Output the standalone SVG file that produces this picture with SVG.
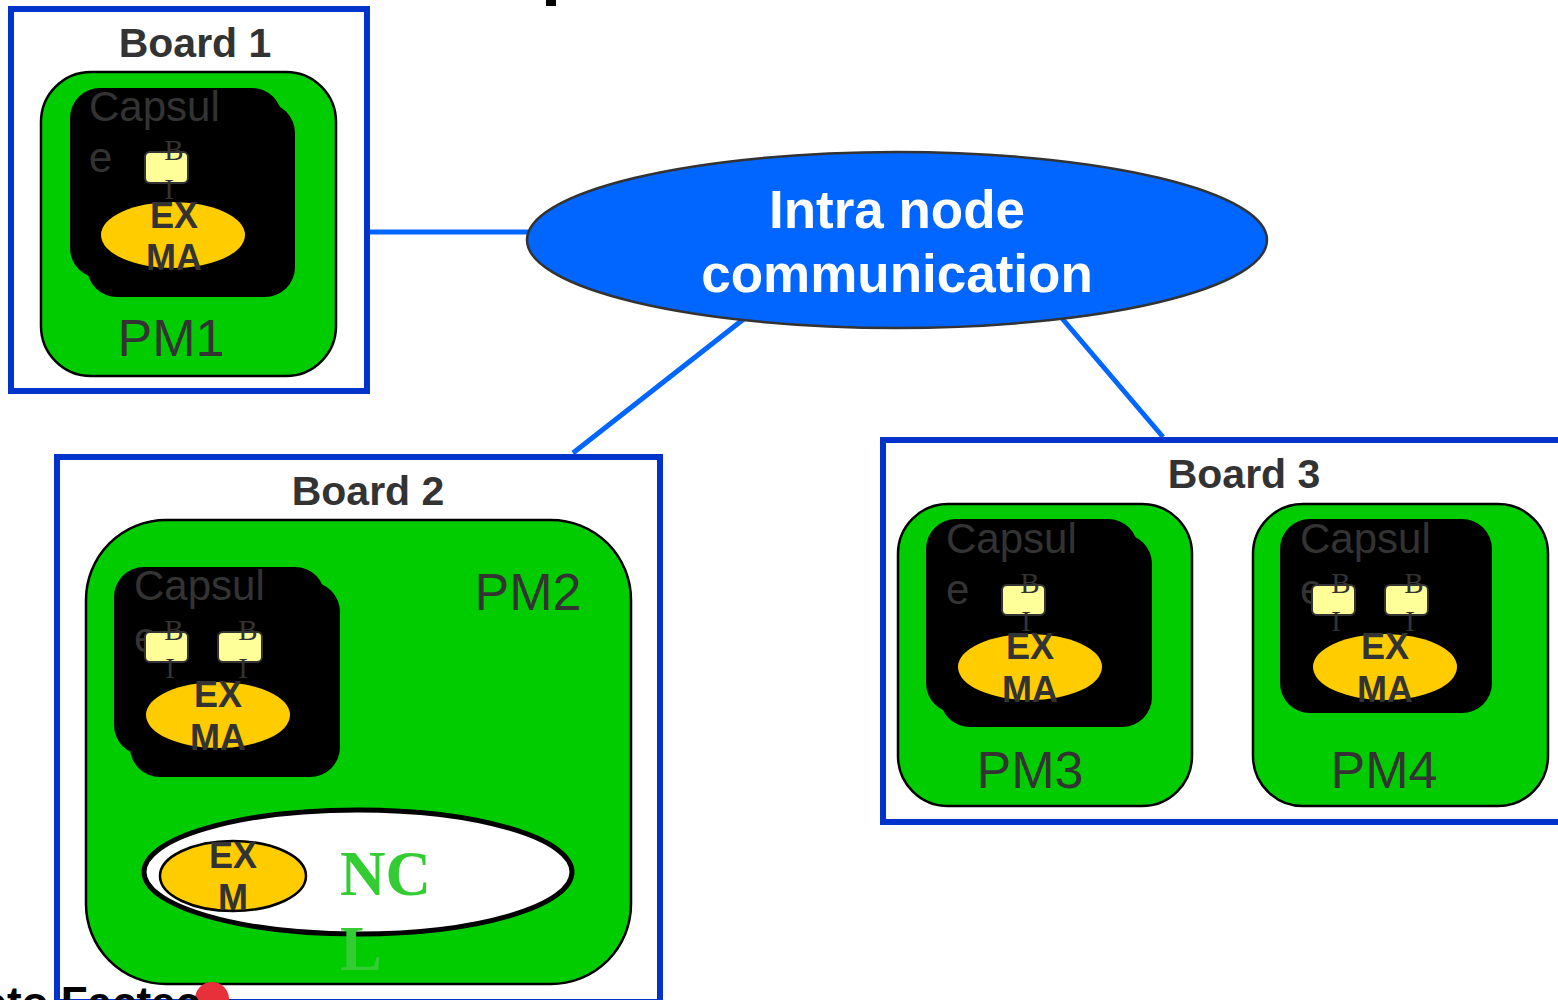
<svg xmlns="http://www.w3.org/2000/svg" width="1558" height="1000" viewBox="0 0 1558 1000">
<style>
.board{fill:#fff;stroke:#0033CC;stroke-width:6}
.blabel{font-family:"Liberation Sans",Arial,sans-serif;font-weight:bold;font-size:41px;fill:#333;text-anchor:middle}
.pm{fill:#00CC00;stroke:#000;stroke-width:2.5}
.pmlabel{font-family:"Liberation Sans",Arial,sans-serif;font-size:52px;fill:#333;text-anchor:middle}
.cap{fill:#000}
.captxt{font-family:"Liberation Sans",Arial,sans-serif;font-size:42px;fill:#333}
.bi{fill:#FFFF99;stroke:#333;stroke-width:2}
.bitxt{font-family:"Liberation Serif","Times New Roman",serif;font-size:29px;fill:#333;text-anchor:middle}
.exma{fill:#FFCC00}
.extxt{font-family:"Liberation Sans",Arial,sans-serif;font-weight:bold;font-size:36px;fill:#333;text-anchor:middle}
.conn{stroke:#0066FF;stroke-width:5;fill:none}
</style>

<rect x="546" y="0" width="10" height="6" fill="#000"/>

<g id="connectors">
<line class="conn" x1="367" y1="232" x2="535" y2="232"/>
<line class="conn" x1="745" y1="318" x2="573" y2="453"/>
<line class="conn" x1="1060" y1="316" x2="1163" y2="437"/>
</g>

<g id="intra">
<ellipse cx="897" cy="240" rx="370" ry="88" fill="#0066FF" stroke="#333" stroke-width="2.5"/>
<text x="897" y="228" font-family="'Liberation Sans',Arial,sans-serif" font-weight="bold" font-size="53" fill="#fff" text-anchor="middle">Intra node</text>
<text x="897" y="292" font-family="'Liberation Sans',Arial,sans-serif" font-weight="bold" font-size="53" fill="#fff" text-anchor="middle">communication</text>
</g>

<g id="board1">
<rect class="board" x="11" y="9" width="356" height="382"/>
<text class="blabel" x="195" y="57">Board 1</text>
<g id="pm1">
<rect class="pm" x="41" y="72" width="295" height="304" rx="50"/>
<rect class="cap" x="70" y="88" width="212" height="190" rx="30"/>
<rect class="cap" x="87" y="103" width="208" height="194" rx="30"/>
<text class="captxt" x="89" y="121">Capsul</text>
<text class="captxt" x="89" y="172">e</text>
<rect class="bi" x="145" y="152" width="43" height="31" rx="5"/>
<text class="bitxt" x="174" y="160">B</text>
<text class="bitxt" x="169" y="199">I</text>
<ellipse class="exma" cx="173" cy="235" rx="72" ry="33"/>
<text class="extxt" x="174" y="228">EX</text>
<text class="extxt" x="174" y="270">MA</text>
<text class="pmlabel" x="171" y="356">PM1</text>
</g>
</g>

<g id="board2">
<rect class="board" x="57" y="457" width="603" height="545"/>
<text class="blabel" x="368" y="505">Board 2</text>
<g id="pm2">
<rect class="pm" x="86" y="520" width="545" height="464" rx="80"/>
<rect class="cap" x="114" y="567" width="211" height="188" rx="30"/>
<rect class="cap" x="130" y="582" width="210" height="195" rx="30"/>
<text class="captxt" x="134" y="600">Capsul</text>
<text class="captxt" x="134" y="652">e</text>
<rect class="bi" x="145" y="632" width="43" height="30" rx="5"/>
<text class="bitxt" x="174" y="640">B</text>
<text class="bitxt" x="170" y="678">I</text>
<rect class="bi" x="218" y="632" width="44" height="30" rx="5"/>
<text class="bitxt" x="248" y="640">B</text>
<text class="bitxt" x="243" y="678">I</text>
<ellipse class="exma" cx="218" cy="715" rx="72" ry="33"/>
<text class="extxt" x="218" y="707">EX</text>
<text class="extxt" x="218" y="750">MA</text>
<text class="pmlabel" x="528" y="610">PM2</text>
</g>
<g id="ncl">
<ellipse cx="358" cy="872" rx="214" ry="62" fill="#fff" stroke="#000" stroke-width="5"/>
<ellipse cx="233" cy="876" rx="73" ry="35" fill="#FFCC00" stroke="#000" stroke-width="2.5"/>
<text class="extxt" x="233" y="868">EX</text>
<text class="extxt" x="233" y="910">M</text>
<text x="340" y="895" font-family="'Liberation Serif','Times New Roman',serif" font-weight="bold" font-size="63" fill="#33CC33">NC</text>
<text x="340" y="970" font-family="'Liberation Serif','Times New Roman',serif" font-weight="bold" font-size="63" fill="#33CC33">L</text>
</g>
</g>

<g id="board3">
<rect class="board" x="883" y="440" width="690" height="382"/>
<text class="blabel" x="1244" y="488">Board 3</text>
<g id="pm3">
<rect class="pm" x="898" y="504" width="294" height="302" rx="50"/>
<rect class="cap" x="926" y="519" width="212" height="194" rx="30"/>
<rect class="cap" x="940" y="534" width="212" height="193" rx="30"/>
<text class="captxt" x="946" y="553">Capsul</text>
<text class="captxt" x="946" y="604">e</text>
<rect class="bi" x="1002" y="585" width="43" height="30" rx="5"/>
<text class="bitxt" x="1030" y="593">B</text>
<text class="bitxt" x="1026" y="631">I</text>
<ellipse class="exma" cx="1030" cy="667" rx="72" ry="33"/>
<text class="extxt" x="1030" y="659">EX</text>
<text class="extxt" x="1030" y="702">MA</text>
<text class="pmlabel" x="1030" y="788">PM3</text>
</g>
<g id="pm4">
<rect class="pm" x="1253" y="504" width="295" height="302" rx="50"/>
<rect class="cap" x="1280" y="519" width="212" height="194" rx="30"/>
<text class="captxt" x="1300" y="553">Capsul</text>
<text class="captxt" x="1300" y="604">e</text>
<rect class="bi" x="1312" y="585" width="43" height="30" rx="5"/>
<text class="bitxt" x="1341" y="593">B</text>
<text class="bitxt" x="1336" y="631">I</text>
<rect class="bi" x="1385" y="585" width="43" height="30" rx="5"/>
<text class="bitxt" x="1414" y="593">B</text>
<text class="bitxt" x="1410" y="631">I</text>
<ellipse class="exma" cx="1385" cy="667" rx="72" ry="33"/>
<text class="extxt" x="1385" y="659">EX</text>
<text class="extxt" x="1385" y="702">MA</text>
<text class="pmlabel" x="1384" y="788">PM4</text>
</g>
</g>

<circle cx="212" cy="999" r="17" fill="#E8303A"/>
<text x="-20" y="1018" font-family="'Liberation Sans',Arial,sans-serif" font-weight="bold" font-size="44" fill="#000">oto Factec</text>
</svg>
